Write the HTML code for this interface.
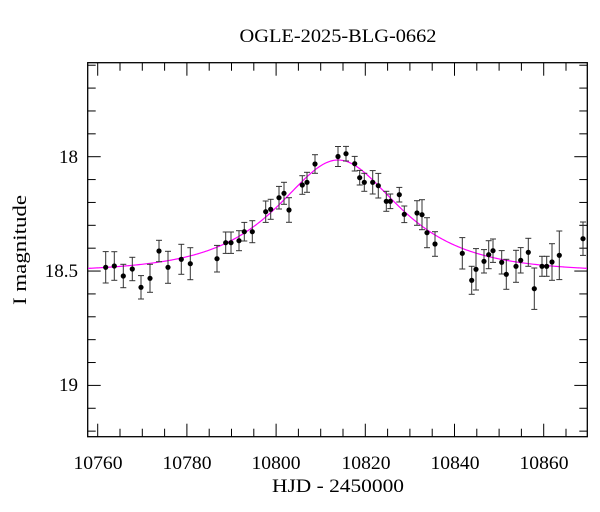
<!DOCTYPE html>
<html><head><meta charset="utf-8"><style>
html,body{margin:0;padding:0;background:#fff;}
svg{display:block;font-family:"Liberation Serif",serif;}
</style></head><body>
<svg id="s" width="600" height="512" viewBox="0 0 600 512">
<rect width="600" height="512" fill="#fff"/>
<text x="338" y="42" font-size="19" text-anchor="middle" textLength="197" lengthAdjust="spacingAndGlyphs">OGLE-2025-BLG-0662</text>
<text x="338" y="492" font-size="19" text-anchor="middle" textLength="132" lengthAdjust="spacingAndGlyphs">HJD - 2450000</text>
<text transform="translate(26,250) rotate(-90)" font-size="19" text-anchor="middle" textLength="110" lengthAdjust="spacingAndGlyphs">I magnitude</text>
<g font-size="19" text-anchor="middle">
<text x="98" y="469" textLength="49" lengthAdjust="spacingAndGlyphs">10760</text><text x="187" y="469" textLength="49" lengthAdjust="spacingAndGlyphs">10780</text><text x="276" y="469" textLength="49" lengthAdjust="spacingAndGlyphs">10800</text>
<text x="366" y="469" textLength="49" lengthAdjust="spacingAndGlyphs">10820</text><text x="455" y="469" textLength="49" lengthAdjust="spacingAndGlyphs">10840</text><text x="544" y="469" textLength="49" lengthAdjust="spacingAndGlyphs">10860</text>
</g>
<g font-size="19" text-anchor="end">
<text x="78" y="163">18</text><text x="78" y="277">18.5</text><text x="78" y="391">19</text>
</g>
<g id="ticks" stroke="#000" stroke-width="1"></g>
<rect x="87.7" y="62.7" width="499.6" height="374" fill="none" stroke="#000" stroke-width="1.3"/>
<path id="curve" fill="none" stroke="#f0f" stroke-width="1.2"/>
<g id="pts"></g>
</svg>
<script>
var X=function(t){return 97.7+(t-10760)*4.46;}, Y=function(m){return 156.7+(m-18)*228.7;};
var tk='';
for(var t=10760;t<=10865;t+=5){var x=X(t),L=(t%20==0)?13:8;tk+='<line x1="'+x+'" y1="436.7" x2="'+x+'" y2="'+(436.7-L)+'"/><line x1="'+x+'" y1="62.7" x2="'+x+'" y2="'+(62.7+L)+'"/>';}
for(var i=0;i<=16;i++){var m=17.6+i*0.1,y=Y(m);if(y<63||y>436)continue;var L=(i%5==4)?13:8;tk+='<line x1="87.7" y1="'+y+'" x2="'+(87.7+L)+'" y2="'+y+'"/><line x1="587.3" y1="'+y+'" x2="'+(587.3-L)+'" y2="'+y+'"/>';}
document.getElementById('ticks').innerHTML=tk;
var d='';
for(var px=88;px<=587;px+=1){var t=10760+(px-97.7)/4.46;var tau=(t-10813.9)/18.8;var u2=0.593+tau*tau,u=Math.sqrt(u2);var A=(u2+2)/(u*Math.sqrt(u2+4));var m=18.505-2.5*Math.log10(A);d+=(d?'L':'M')+px+' '+Y(m).toFixed(2);}
document.getElementById('curve').setAttribute('d',d);
var P=[[105.7,267.3,15.7],[114.3,266,14.3],[123.3,276,11.7],[132.3,269,11.7],[141,287.3,11.7],[150,278.3,14],[159,251,10.7],[168,267.3,16],[181.3,259.3,15],[190.3,263.7,16],[217,258.7,13.3],[225.7,242.7,10.7],[231,242.7,10.7],[239,240.7,10],[244.3,231.7,9.3],[252.3,231.7,11],[265.7,211.7,10.7],[270.7,209.3,10],[279,197.7,11.3],[284,193.3,11],[289,210,12.3],[302.3,185,9.3],[307,182.3,10],[315,164,9.3],[338,156.5,10],[346,153.7,7.3],[354.7,163.7,7.3],[359.7,177.7,7.3],[364.3,182.3,9],[372.7,182.3,11.7],[378.3,185.7,12.3],[386.3,201.3,10],[390.3,201.3,7.3],[399.3,194.7,7.3],[404.3,214.3,8.3],[417,213,12.3],[422,214.7,15],[427,232.7,15],[435,244,12.3],[462.3,253.3,15.7],[471.7,280.3,14],[476,269.3,20.7],[484,261.3,11.7],[488.7,254.7,14],[493,250.7,11.7],[501.7,262.3,11.7],[506.3,274.3,15],[516,266.3,16],[520.7,260.3,12.7],[528.3,252.3,14],[534.3,288.7,20.7],[542,266.3,10],[546.7,266.3,10],[552,262,18.3],[559.3,255.3,24.3],[583,238.7,16.7]];
var s='';
P.forEach(function(p){var x=p[0],y=p[1],e=p[2];s+='<g stroke="#333" stroke-width="1"><line x1="'+x+'" y1="'+(y-e)+'" x2="'+x+'" y2="'+(y+e)+'"/><line x1="'+(x-3)+'" y1="'+(y-e)+'" x2="'+(x+3)+'" y2="'+(y-e)+'"/><line x1="'+(x-3)+'" y1="'+(y+e)+'" x2="'+(x+3)+'" y2="'+(y+e)+'"/></g><circle cx="'+x+'" cy="'+y+'" r="2.6" fill="#000"/>';});
document.getElementById('pts').innerHTML=s;
</script>
</body></html>
